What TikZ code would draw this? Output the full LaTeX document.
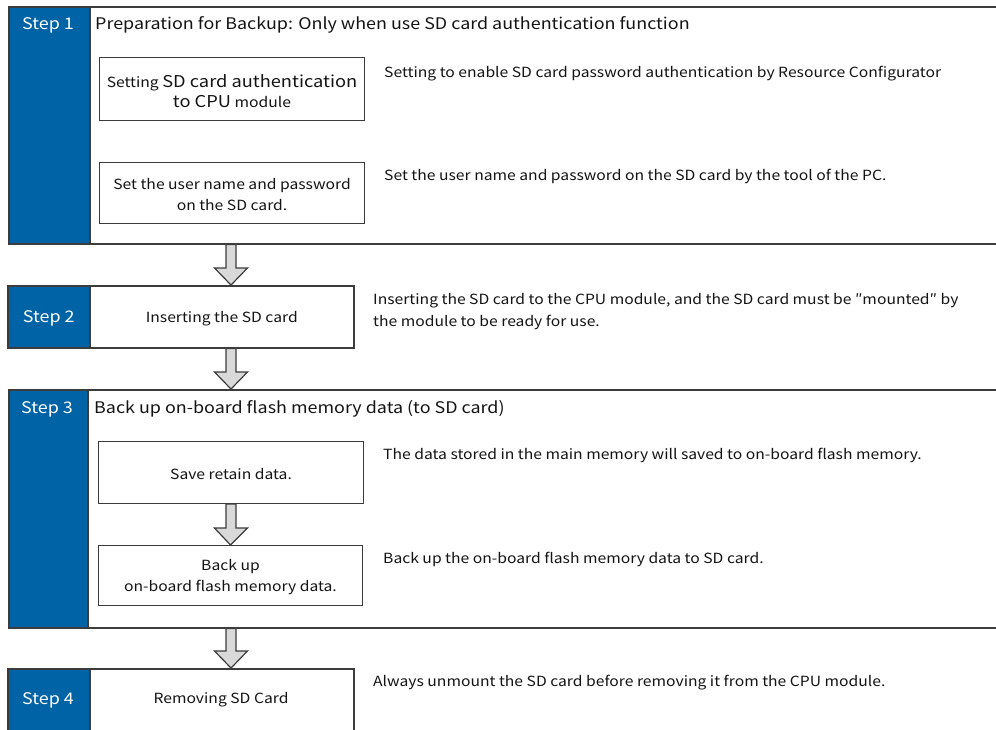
\documentclass[tikz,border=0pt]{standalone}
\usepackage{fontspec}
\setmainfont[FakeStretch=1.12]{Noto Sans CJK JP}
\usetikzlibrary{calc}
\definecolor{stepblue}{RGB}{0,99,166}
\definecolor{edge}{RGB}{60,60,60}
\definecolor{arrowgray}{RGB}{217,217,217}
\definecolor{txt}{RGB}{20,20,20}
\tikzset{
  x=1pt, y=-1pt,
  block/.style={draw=edge, line width=1.5pt, fill=white, anchor=north west, inner sep=0pt},
  panel/.style={draw=edge, line width=1.5pt, fill=stepblue, anchor=north west, inner sep=0pt},
  innerbox/.style={draw=edge, line width=1pt, fill=white, anchor=north west, inner sep=0pt},
  boxtext/.style={text=txt, align=center, yshift=-2pt, font=\fontsize{14}{21}\selectfont},
  steplabel/.style={text=white, yshift=-2pt, font=\fontsize{16}{18}\selectfont},
  titletext/.style={text=txt, anchor=west, inner sep=0pt, yshift=-2pt, font=\fontsize{16}{20}\selectfont},
  desctext/.style={text=txt, anchor=west, inner sep=0pt, align=left, yshift=-2pt, font=\fontsize{14}{22}\selectfont},
  bigarrow/.style={draw=edge, line width=1.2pt, fill=arrowgray, line join=miter},
}
\newcommand{\blockarrow}[2]{%
  \draw[bigarrow] let \p1=(#1), \p2=(#2) in
    (\x1-5pt,\y1) -- (\x1-5pt,\y2+17pt) -- (\x1-16.5pt,\y2+17pt) -- (\x2,\y2)
    -- (\x1+16.5pt,\y2+17pt) -- (\x1+5pt,\y2+17pt) -- (\x1+5pt,\y1) -- cycle;}
\begin{document}
\begin{tikzpicture}
\useasboundingbox (0,0) rectangle (996,729);
\clip (0,0) rectangle (996,729);
\fill[white] (0,0) rectangle (996,729);

% ---------- Step 1 ----------
\node[block, minimum width=1010pt, minimum height=237pt] (s1) at (8,6) {};
\node[panel, minimum width=81pt, minimum height=237pt] (p1) at (8,6) {};
\node[steplabel] (l1) at (48,23) {Step 1};
\node[titletext] (t1) at (95,23) {Preparation for Backup: Only when use SD card authentication function};
\node[innerbox, minimum width=265pt, minimum height=63pt] (a) at (99,57) {};
\node[boxtext] (at) at (a.center) {{\fontsize{14}{24}\selectfont Setting} {\fontsize{16.3}{24}\selectfont SD card authentication}\\[-1pt]{\fontsize{16.3}{24}\selectfont to CPU} module};
\node[innerbox, minimum width=265pt, minimum height=61pt] (b) at (99,162) {};
\node[boxtext] (bt) at (b.center) {Set the user name and password\\on the SD card.};
\node[desctext] (d1) at (384,72) {Setting to enable SD card password authentication by Resource Configurator};
\node[desctext] (d2) at (384,174) {Set the user name and password on the SD card by the tool of the PC.};

% ---------- Step 2 ----------
\node[block, minimum width=264pt, minimum height=62pt] (s2) at (89,285) {};
\node[panel, minimum width=82pt, minimum height=62pt] (p2) at (7,285) {};
\node[steplabel] (l2) at (p2.center) {Step 2};
\node[boxtext] (s2t) at (s2.center) {Inserting the SD card};
\node[desctext] (d3) at (373,310) {Inserting the SD card to the CPU module, and the SD card must be ″mounted″ by\\the module to be ready for use.};

% ---------- Step 3 ----------
\node[block, minimum width=1010pt, minimum height=238pt] (s3) at (8,389) {};
\node[panel, minimum width=79pt, minimum height=238pt] (p3) at (8,389) {};
\node[steplabel] (l3) at (47,407) {Step 3};
\node[titletext] (t3) at (94,407) {Back up on-board flash memory data (to SD card)};
\node[innerbox, minimum width=265pt, minimum height=62pt] (c) at (98,441) {};
\node[boxtext] (ct) at (c.center) {Save retain data.};
\node[innerbox, minimum width=264pt, minimum height=60pt] (d) at (98,545) {};
\node[boxtext] (dt) at (d.center) {Back up\\on-board flash memory data.};
\node[desctext] (d4) at (383,453) {The data stored in the main memory will saved to on-board flash memory.};
\node[desctext] (d5) at (383,557) {Back up the on-board flash memory data to SD card.};

% ---------- Step 4 ----------
\node[block, minimum width=264pt, minimum height=80pt] (s4) at (89,668) {};
\node[panel, minimum width=82pt, minimum height=80pt] (p4) at (7,668) {};
\node[steplabel] (l4) at (48,698) {Step 4};
\node[boxtext] (s4t) at (221,698) {Removing SD Card};
\node[desctext] (d6) at (373,681) {Always unmount the SD card before removing it from the CPU module.};

% ---------- arrows ----------
\coordinate (ax) at (231,0);
\blockarrow{ax |- s1.south}{ax |- s2.north}
\blockarrow{ax |- s2.south}{ax |- s3.north}
\blockarrow{c.south}{d.north}
\blockarrow{ax |- s3.south}{ax |- s4.north}
\end{tikzpicture}
\end{document}
